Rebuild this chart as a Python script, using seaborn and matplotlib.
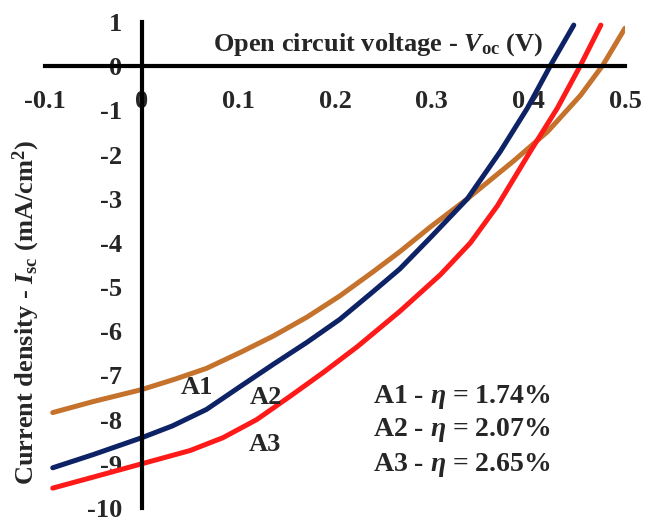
import numpy as np
import pandas as pd
import matplotlib
matplotlib.use("Agg")
import matplotlib.pyplot as plt
import seaborn as sns

# ---- data ----
v_a1 = [-0.092, -0.05, 0.0, 0.035, 0.067, 0.102, 0.136, 0.171, 0.205, 0.239, 0.267, 0.298, 0.337, 0.384, 0.42, 0.454, 0.477, 0.5]
j_a1 = [-7.84, -7.59, -7.32, -7.08, -6.84, -6.48, -6.11, -5.68, -5.20, -4.66, -4.20, -3.65, -3.00, -2.16, -1.48, -0.66, 0.02, 0.86]

v_a2 = [-0.092, -0.05, 0.0, 0.032, 0.067, 0.102, 0.136, 0.171, 0.205, 0.239, 0.267, 0.30, 0.337, 0.371, 0.399, 0.423, 0.447]
j_a2 = [-9.09, -8.79, -8.41, -8.14, -7.77, -7.25, -6.75, -6.25, -5.73, -5.11, -4.59, -3.85, -3.00, -1.93, -0.95, 0.02, 0.93]

v_a3 = [-0.092, -0.05, 0.0, 0.05, 0.084, 0.119, 0.153, 0.188, 0.223, 0.267, 0.309, 0.34, 0.368, 0.402, 0.43, 0.454, 0.475]
j_a3 = [-9.55, -9.30, -9.00, -8.70, -8.41, -8.00, -7.48, -6.93, -6.35, -5.55, -4.72, -4.00, -3.16, -1.93, -0.95, 0.02, 0.93]

samples = ["A1", "A2", "A3"]
efficiencies = ["1.74", "2.07", "2.65"]
x_ticks = [-0.1, 0, 0.1, 0.2, 0.3, 0.4, 0.5]
x_tick_labels = ["-0.1", "0", "0.1", "0.2", "0.3", "0.4", "0.5"]
y_ticks = [1, 0, -1, -2, -3, -4, -5, -6, -7, -8, -9, -10]
colors = {"A1": "#C4722C", "A2": "#0E2266", "A3": "#FF1A1A"}

df = pd.concat([
    pd.DataFrame({"V": v_a1, "J": j_a1, "sample": "A1"}),
    pd.DataFrame({"V": v_a2, "J": j_a2, "sample": "A2"}),
    pd.DataFrame({"V": v_a3, "J": j_a3, "sample": "A3"}),
], ignore_index=True)

sns.set_style("white")
plt.rcParams["font.family"] = ["Liberation Serif", "DejaVu Serif"]
plt.rcParams["font.weight"] = "bold"
plt.rcParams["mathtext.fontset"] = "custom"
plt.rcParams["mathtext.rm"] = "Liberation Serif:bold"
plt.rcParams["mathtext.it"] = "Liberation Serif:italic:bold"
plt.rcParams["mathtext.bf"] = "Liberation Serif:bold"

fig = plt.figure(figsize=(6.46, 5.2), dpi=100)
ax = fig.add_axes([45 / 646, 1 - 508 / 520, 580 / 646, 486 / 520])

sns.lineplot(data=df, x="V", y="J", hue="sample", palette=colors, linewidth=3.6,
             estimator=None, sort=False, legend=False, ax=ax)
for line in ax.get_lines():
    line.set_solid_joinstyle("round")

ax.set_xlim(-0.1, 0.5)
ax.set_ylim(-10, 1)

for side in ["top", "right"]:
    ax.spines[side].set_visible(False)
ax.spines["left"].set_position(("data", 0))
ax.spines["bottom"].set_position(("data", 0))
for side in ["left", "bottom"]:
    ax.spines[side].set_linewidth(3.0)
    ax.spines[side].set_color("black")
    ax.spines[side].set_zorder(3)

ax.set_xticks(x_ticks)
ax.set_xticklabels(x_tick_labels)
ax.set_yticks(y_ticks)
ax.set_yticklabels([str(t) for t in y_ticks])
ax.tick_params(axis="x", direction="out", length=3, width=3, pad=14, labelsize=19, color="black")
ax.tick_params(axis="y", direction="out", length=5, width=3, pad=9, labelsize=19, color="black")
for lab in ax.get_xticklabels() + ax.get_yticklabels():
    lab.set_fontweight("bold")

ax.set_xlabel(r"Open circuit voltage - $V_{\mathrm{oc}}$ (V)", fontsize=19, fontweight="bold")
ax.xaxis.set_label_coords((378 - 45) / 580, (508 - 45) / 486)
ax.xaxis.label.set_va("center")
ax.set_ylabel(r"Current density - $I_{\mathrm{sc}}$ (mA/cm$^{2}$)", fontsize=19, fontweight="bold")
ax.yaxis.set_label_coords((26 - 45) / 580, (508 - 313) / 486)
ax.yaxis.label.set_va("center")

# curve labels
label_pos = {"A1": (0.057, -7.27), "A2": (0.129, -7.5), "A3": (0.127, -8.57)}
for s in samples:
    ax.text(label_pos[s][0], label_pos[s][1], s, fontsize=19, fontweight="bold",
            ha="center", va="center")

# efficiency annotations
eff_y = [-7.48, -8.23, -9.02]
for s, e, yy in zip(samples, efficiencies, eff_y):
    ax.text(0.239, yy, s + r" - $\eta$ = " + e + "%", fontsize=20, fontweight="bold",
            ha="left", va="center")

fig.savefig("out.png", dpi=100)
